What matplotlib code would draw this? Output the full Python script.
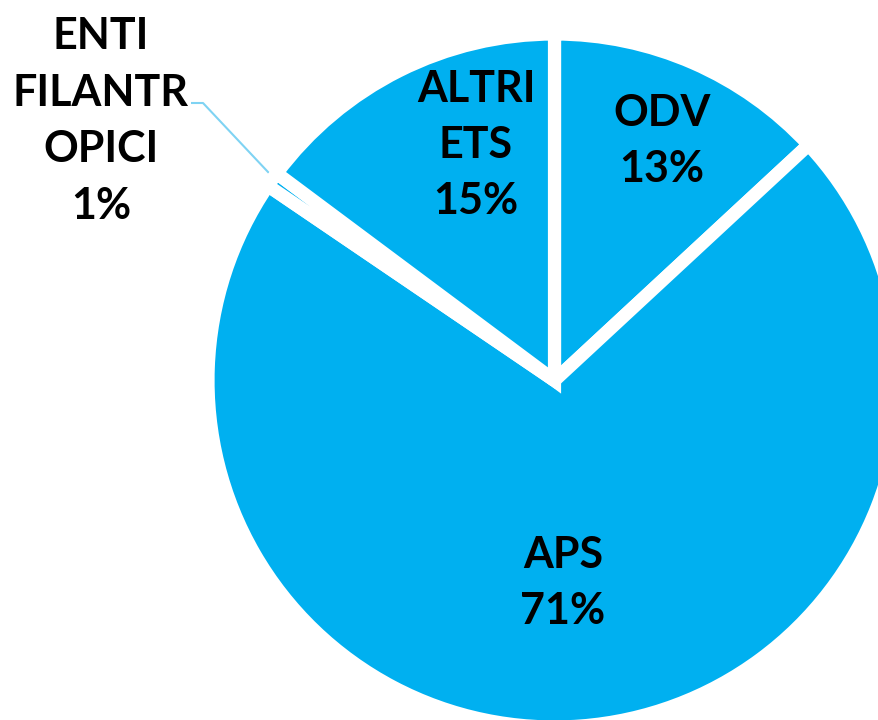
import numpy as np
import matplotlib.pyplot as plt

# ========== Data ==========
categories = ["ODV", "APS", "ENTI\nFILANTR\nOPICI", "ALTRI\nETS"]
shares = [13.1, 71.4, 0.7, 14.8]          # percent (labels are rounded)

plt.rcParams["font.family"] = ["Lato", "DejaVu Sans"]

fig = plt.figure(figsize=(8.79, 7.2), dpi=100)
ax = fig.add_axes([0, 0, 1, 1])

# white edge stroke eats half its width from the outer rim, so radius is padded
cx, cy, r = 554.5, 339.5, 346.5
wedges, _ = ax.pie(
    shares,
    startangle=90,
    counterclock=False,
    colors=["#00B0F0"] * len(shares),
    center=(cx, cy),
    radius=r,
    wedgeprops=dict(edgecolor="white", linewidth=9.5),
)

ax.set_xlim(0, 879)
ax.set_ylim(0, 720)
ax.set_aspect("equal")
ax.axis("off")

# label anchors (text positions, in pixel-like data units)
label_pos = [(662, 579), (563, 137), (101, 599), (476, 575)]
txt_kw = dict(ha="center", va="center", fontsize=31, fontweight="bold",
              color="black", linespacing=1.5)
for name, val, (tx, ty) in zip(categories, shares, label_pos):
    ax.text(tx, ty, f"{name}\n{round(val):d}%", **txt_kw)

# leader line for the tiny slice
w = wedges[2]
mid = np.deg2rad((w.theta1 + w.theta2) / 2)
ex, ey = cx + r * 0.97 * np.cos(mid), cy + r * 0.97 * np.sin(mid)
ax.plot([191, 203, ex], [617, 617, ey], color="#7FD3F3", lw=1.5,
        solid_capstyle="butt", zorder=0)

fig.savefig("out.png", dpi=100)
